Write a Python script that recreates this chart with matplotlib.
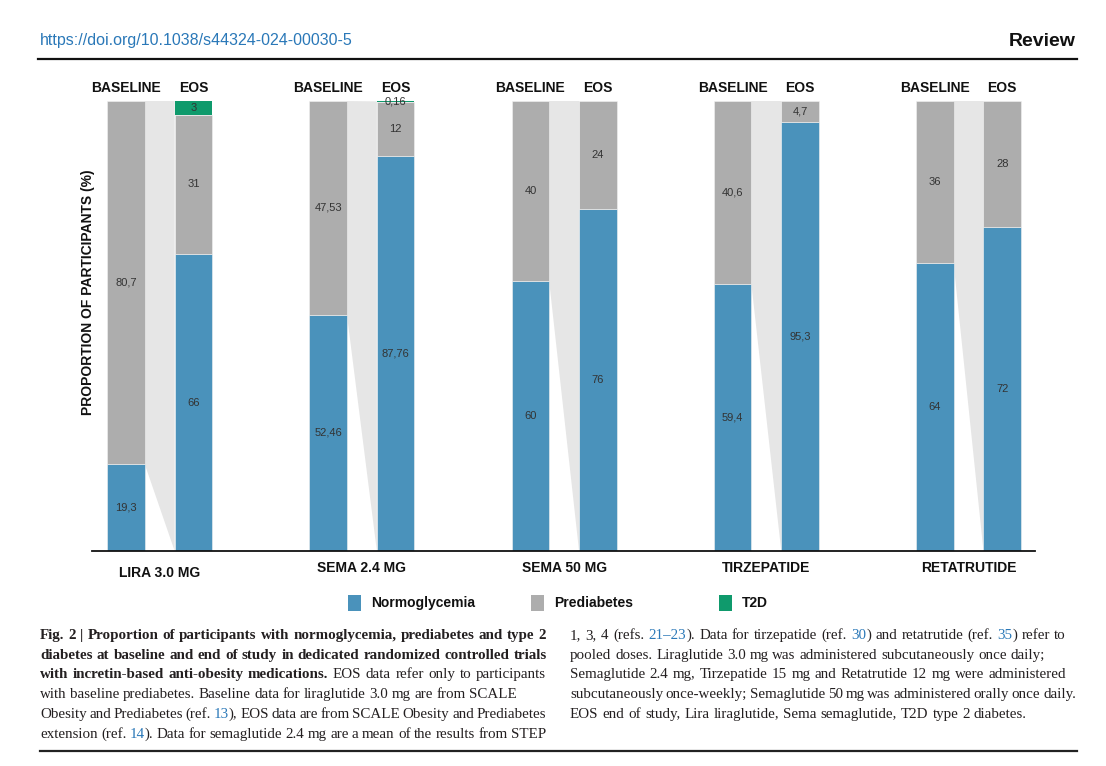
import matplotlib
matplotlib.use('Agg')
import matplotlib.pyplot as plt
from matplotlib.patches import Rectangle
from matplotlib.lines import Line2D
import numpy as np

W, H = 1106, 766

# ---------------- data ----------------
groups = ['LIRA 3.0 MG', 'SEMA 2.4 MG', 'SEMA 50 MG', 'TIRZEPATIDE', 'RETATRUTIDE']
base_normo = np.array([19.3, 52.46, 60, 59.4, 64])
base_pre = np.array([80.7, 47.53, 40, 40.6, 36])
eos_normo = np.array([66, 87.76, 76, 95.3, 72])
eos_pre = np.array([31, 12, 24, 4.7, 28])
eos_t2d = np.array([3, 0.16, 0, 0, 0])
col_labels = ['BASELINE', 'EOS']
legend_labels = ['Normoglycemia', 'Prediabetes', 'T2D']
ylabel = 'PROPORTION OF PARTICIPANTS (%)'
header_url = 'https://doi.org/10.1038/s44324-024-00030-5'
header_right = 'Review'

cap_left = [
    [('Fig. 2 | Proportion of participants with normoglycemia, prediabetes and type 2', 'b')],
    [('diabetes at baseline and end of study in dedicated randomized controlled trials', 'b')],
    [('with incretin-based anti-obesity medications.', 'b'), (' EOS data refer only to participants', 'n')],
    [('with baseline prediabetes. Baseline data for liraglutide 3.0 mg are from SCALE', 'n')],
    [('Obesity and Prediabetes (ref. ', 'n'), ('13', 'r'), ('), EOS data are from SCALE Obesity and Prediabetes', 'n')],
    [('extension (ref. ', 'n'), ('14', 'r'), ('). Data for semaglutide 2.4 mg are a mean of the results from STEP', 'n')],
]
cap_right = [
    [('1, 3, 4 (refs. ', 'n'), ('21\u201323', 'r'), ('). Data for tirzepatide (ref. ', 'n'), ('30', 'r'),
     (') and retatrutide (ref. ', 'n'), ('35', 'r'), (') refer to', 'n')],
    [('pooled doses. Liraglutide 3.0 mg was administered subcutaneously once daily;', 'n')],
    [('Semaglutide 2.4 mg, Tirzepatide 15 mg and Retatrutide 12 mg were administered', 'n')],
    [('subcutaneously once-weekly; Semaglutide 50 mg was administered orally once daily.', 'n')],
    [('EOS end of study, Lira liraglutide, Sema semaglutide, T2D type 2 diabetes.', 'n')],
]

# ---------------- style ----------------
C_NORMO = '#4a92bb'
C_PRE = '#adadad'
C_T2D = '#0f9a6c'
C_LINK = '#e6e6e6'
BLUE = '#2a78b8'
TXT = '#231f20'

plt.rcParams['font.family'] = ['Liberation Sans', 'DejaVu Sans']

fig = plt.figure(figsize=(W / 100, H / 100), dpi=100)
fig.patch.set_facecolor('white')


def fx(px):
    return px / W


def fy(py):
    return 1 - py / H


# ---------------- chart ----------------
ax = fig.add_axes([fx(92), fy(551), (1035 - 92) / W, (551 - 101) / H])
n = len(groups)
xb = np.arange(n) * 3.0
xe = xb + 1.0
w = 0.556

for i in range(n):
    top_b = base_normo[i] + base_pre[i]
    top_e = eos_normo[i] + eos_pre[i] + eos_t2d[i]
    ax.fill([xb[i] + w / 2, xe[i] - w / 2, xe[i] - w / 2, xb[i] + w / 2],
            [top_b, top_e, 0, base_normo[i]], color=C_LINK, lw=0, zorder=1)

kw = dict(width=w, edgecolor='#f2f2f2', linewidth=0.4, zorder=2)
ax.bar(xb, base_normo, color=C_NORMO, **kw)
ax.bar(xb, base_pre, bottom=base_normo, color=C_PRE, **kw)
ax.bar(xe, eos_normo, color=C_NORMO, **kw)
ax.bar(xe, eos_pre, bottom=eos_normo, color=C_PRE, **kw)
ax.bar(xe, eos_t2d, bottom=eos_normo + eos_pre, color=C_T2D, width=w, linewidth=0, zorder=2)


def fmt(v):
    return f'{v:g}'.replace('.', ',')


def seg_labels(xs, bottoms, vals):
    for x, b, v in zip(xs, bottoms, vals):
        if v > 0:
            ax.text(x, b + v / 2, fmt(v), ha='center', va='center', fontsize=8,
                    color='#333333', zorder=3, clip_on=False)


seg_labels(xb, np.zeros(n), base_normo)
seg_labels(xb, base_normo, base_pre)
seg_labels(xe, np.zeros(n), eos_normo)
seg_labels(xe, eos_normo, eos_pre)
seg_labels(xe, eos_normo + eos_pre, eos_t2d)

for i in range(n):
    ax.text(xb[i], 102.9, col_labels[0], ha='center', va='center', fontsize=10,
            fontweight='bold', color='#111111', clip_on=False)
    ax.text(xe[i], 102.9, col_labels[1], ha='center', va='center', fontsize=10,
            fontweight='bold', color='#111111', clip_on=False)
    gy = -4.9 if i == 0 else -3.8
    ax.text(xb[i] + 0.5, gy, groups[i], ha='center', va='center', fontsize=10,
            fontweight='bold', color='#111111', clip_on=False)

ax.set_xlim(-34 / 67.4, (1035 - 126) / 67.4)
ax.set_ylim(0, 100)
for s in ['top', 'right', 'left']:
    ax.spines[s].set_visible(False)
ax.spines['bottom'].set_color('#111111')
ax.spines['bottom'].set_linewidth(1.3)
ax.set_xticks([])
ax.set_yticks([])
ax.patch.set_alpha(0)

fig.text(fx(88), fy(292), ylabel, rotation=90, ha='center', va='center',
         fontsize=10, fontweight='bold', color='#111111')

# legend
leg_colors = [C_NORMO, C_PRE, C_T2D]
leg_x = [348, 531, 719]
for lx, c, lab in zip(leg_x, leg_colors, legend_labels):
    fig.add_artist(Rectangle((fx(lx), fy(611)), 13 / W, 16 / H, transform=fig.transFigure,
                             facecolor=c, edgecolor='none'))
    fig.text(fx(lx + 23), fy(603), lab, ha='left', va='center', fontsize=10,
             fontweight='bold', color='#111111')

# ---------------- header ----------------
fig.text(fx(40), fy(41), header_url, ha='left', va='center', fontsize=11.5, color=BLUE)
fig.text(fx(1076), fy(41), header_right, ha='right', va='center', fontsize=14,
         fontweight='bold', color='#111111')
fig.add_artist(Line2D([fx(38), fx(1077)], [fy(59), fy(59)], color='#111111', lw=1.6,
                      transform=fig.transFigure))
fig.add_artist(Line2D([fx(40), fx(1077)], [fy(751), fy(751)], color='#222222', lw=1.6,
                      transform=fig.transFigure))

# ---------------- caption ----------------
renderer = fig.canvas.get_renderer()
CAP_FONT = ['Liberation Serif', 'DejaVu Serif']
SIZES = {'b': 10.0, 'n': 10.0, 'r': 10.0}


def tokenize(runs):
    words = [[]]
    for text, style in runs:
        parts = text.split(' ')
        for k, p in enumerate(parts):
            if k > 0:
                words.append([])
            if p:
                words[-1].append((p, style))
    return [wd for wd in words if wd]


def mk(s, style, size=None):
    if size is None:
        size = SIZES[style]
    return fig.text(0, 0, s, fontsize=size, family=CAP_FONT,
                    fontweight='bold' if style == 'b' else 'normal',
                    color=BLUE if style == 'r' else TXT, ha='left', va='baseline')


def tw(s, style, size=None):
    t = mk(s, style, size)
    wv = t.get_window_extent(renderer).width
    t.remove()
    return wv


def word_width(wd, size=None):
    if len(set(st for _, st in wd)) == 1 or all(st != 'b' for _, st in wd):
        return tw(''.join(s for s, _ in wd), wd[0][1] if wd[0][1] != 'r' else 'n', size)
    return sum(tw(s, st, size) for s, st in wd)


def natural_width(runs, size):
    words = tokenize(runs)
    tot = sum(word_width(wd, size) for wd in words)
    sp = tw('n n', 'n', size) - tw('nn', 'n', size)
    return tot + sp * (len(words) - 1)


left_ends = [546, 547, 546, 517, 546, 546]
right_ends = [1066, 1045, 1066, 1076, 1027]
line_base = [639, 659, 678, 698, 718, 738]

rb = [(e - 40) / natural_width(r, 10) for r, e in zip(cap_left[:2], left_ends[:2])]
rn = [(e - 40) / natural_width(r, 10) for r, e in zip(cap_left[3:], left_ends[3:])]
rn += [(e - 570) / natural_width(r, 10) for r, e in zip(cap_right, right_ends)]
SIZES['b'] = 10 * float(np.median(rb)) * 0.995
SIZES['n'] = 10 * float(np.median(rn)) * 1.0
SIZES['r'] = SIZES['n']


def draw_line(runs, x0, x1, yb):
    words = tokenize(runs)
    widths = [word_width(wd) for wd in words]
    gap = (x1 - x0 - sum(widths)) / max(len(words) - 1, 1)
    x = x0
    for wd, ww in zip(words, widths):
        acc = ''
        for k, (s, st) in enumerate(wd):
            acc += s
            if k == 0:
                px = x
            else:
                px = x + tw(acc, 'n') - tw(s, 'n')
            t = mk(s, st)
            t.set_position((fx(px), fy(yb)))
        x += ww + gap


for runs, e, yb in zip(cap_left, left_ends, line_base):
    draw_line(runs, 40, e, yb)
for runs, e, yb in zip(cap_right, right_ends, line_base):
    draw_line(runs, 570, e, yb)

fig.savefig('out.png', dpi=100, facecolor='white')
